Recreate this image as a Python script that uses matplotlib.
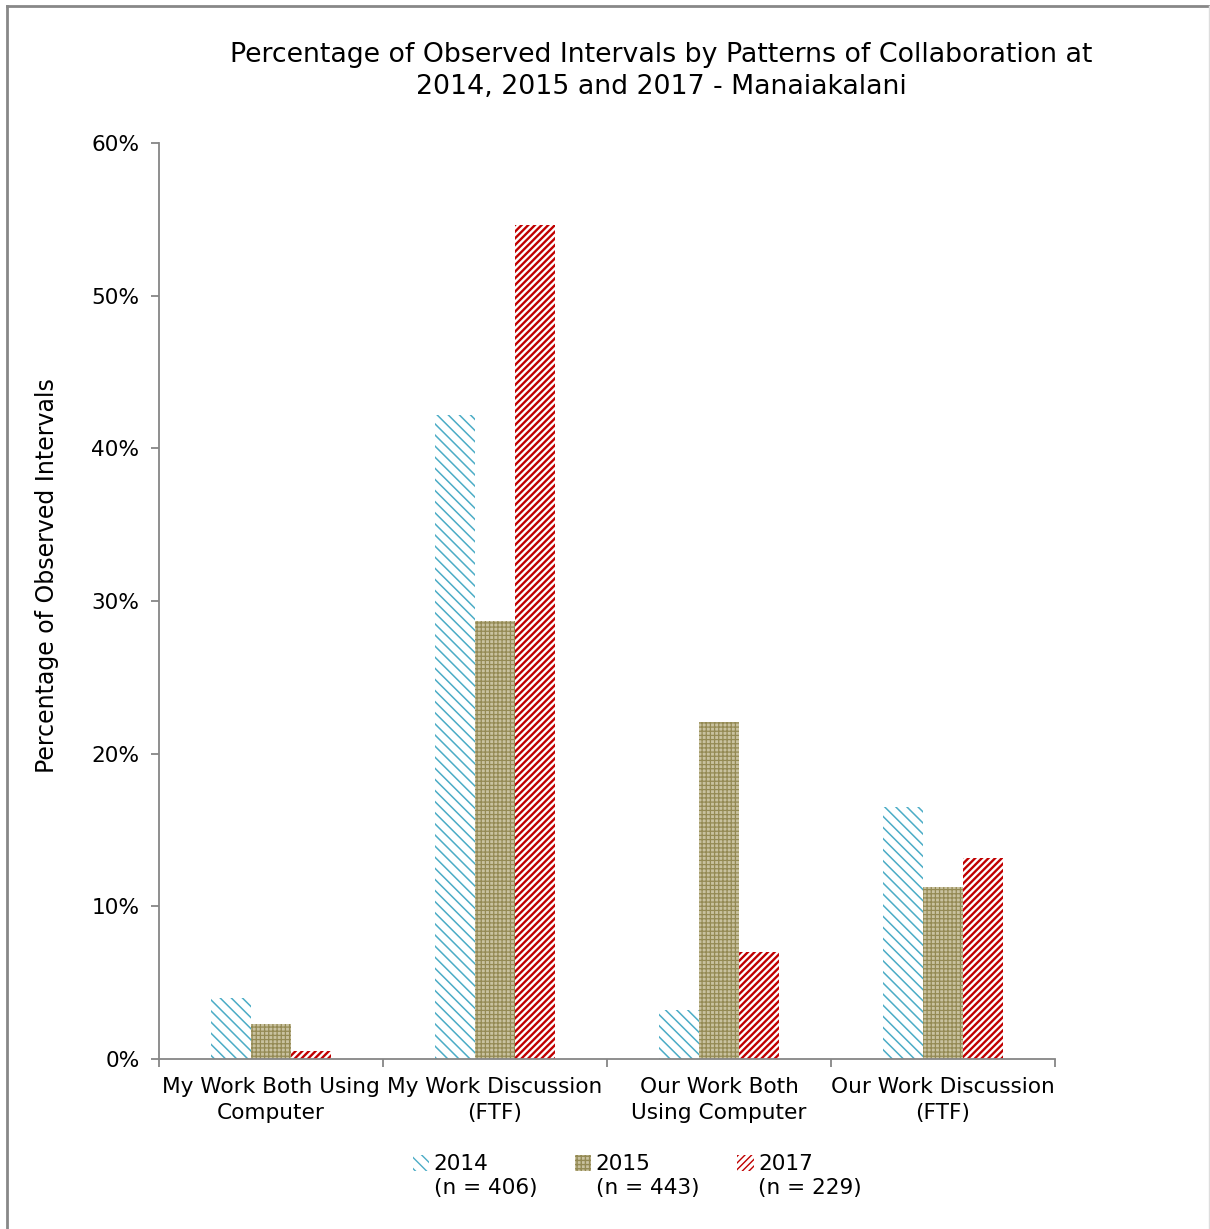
import numpy as np
import matplotlib.pyplot as plt
from matplotlib.lines import Line2D
from matplotlib.ticker import FuncFormatter, FixedLocator

categories = [
    "My Work Both Using\nComputer",
    "My Work Discussion\n(FTF)",
    "Our Work Both\nUsing Computer",
    "Our Work Discussion\n(FTF)",
]
years = ["2014", "2015", "2017"]
sample_sizes = ["(n = 406)", "(n = 443)", "(n = 229)"]
pct_2014 = [4.0, 42.2, 3.2, 16.5]
pct_2015 = [2.3, 28.7, 22.1, 11.3]
pct_2017 = [0.5, 54.6, 7.0, 13.2]

plt.rcParams["font.family"] = "DejaVu Sans"

fig = plt.figure(figsize=(12.10, 12.29), dpi=100)
ax = fig.add_axes([0.1314, 0.1383, 0.7405, 0.7453])

x = np.arange(len(categories))
w = 0.18
styles = [
    dict(facecolor="white", edgecolor="#4bacc6", hatch="\\" * 3, hlw=1.1),
    dict(facecolor="#c9c2a0", edgecolor="#948a54", hatch="+" * 4, hlw=0.9),
    dict(facecolor="white", edgecolor="#c00000", hatch="/" * 5, hlw=1.7),
]
for i, vals in enumerate([pct_2014, pct_2015, pct_2017]):
    st = dict(styles[i])
    hlw = st.pop("hlw")
    bars = ax.bar(x + (i - 1) * w, vals, w, linewidth=0, label=years[i], **st)
    for b in bars:
        b.set_hatch_linewidth(hlw)

ax.set_xlim(-0.5, len(categories) - 0.5)
ax.set_ylim(0, 60)
ax.set_yticks(np.arange(0, 61, 10))
ax.yaxis.set_major_formatter(FuncFormatter(lambda v, p: f"{v:.0f}%"))
ax.set_xticks(x)
ax.set_xticklabels(categories, fontsize=15.6, linespacing=1.4)
ax.xaxis.set_minor_locator(FixedLocator(np.arange(-0.5, len(categories), 1.0)))
ax.tick_params(axis="x", which="major", length=0, pad=13)
ax.tick_params(axis="x", which="minor", length=6, color="#868686", width=1.3)
ax.tick_params(axis="y", length=6, color="#868686", width=1.3, labelsize=15.6, pad=8)

for side in ["top", "right"]:
    ax.spines[side].set_visible(False)
for side in ["left", "bottom"]:
    ax.spines[side].set_color("#868686")
    ax.spines[side].set_linewidth(1.3)

ax.set_ylabel("Percentage of Observed Intervals", fontsize=17)
ax.yaxis.set_label_coords(-0.112, 0.528)
fig.text(0.5467, 0.942,
         "Percentage of Observed Intervals by Patterns of Collaboration at\n"
         "2014, 2015 and 2017 - Manaiakalani",
         ha="center", va="center", fontsize=19.3, linespacing=1.3)

leg = ax.legend(loc="upper center", bbox_to_anchor=(0.5066, -0.092), ncol=3,
                frameon=False, fontsize=15.6, handlelength=0.75, handleheight=0.75,
                handletextpad=0.2, columnspacing=4.0, borderpad=0)

# sample sizes sit under each legend entry
fig.canvas.draw()
inv = fig.transFigure.inverted()
for t, n in zip(leg.get_texts(), sample_sizes):
    bb = t.get_window_extent()
    fx, fy = inv.transform((bb.x0, bb.y0))
    fig.text(fx, fy - 0.003, n, ha="left", va="top", fontsize=15.6)

# outer frame
fig.add_artist(Line2D([0.0055, 0.0055], [0, 0.995], color="#888888", lw=2,
                      transform=fig.transFigure))
fig.add_artist(Line2D([0.0055, 1.0], [0.995, 0.995], color="#888888", lw=2,
                      transform=fig.transFigure))
fig.add_artist(Line2D([0.999, 0.999], [0, 0.995], color="#dddddd", lw=1,
                      transform=fig.transFigure))

fig.savefig("out.png", dpi=100)
